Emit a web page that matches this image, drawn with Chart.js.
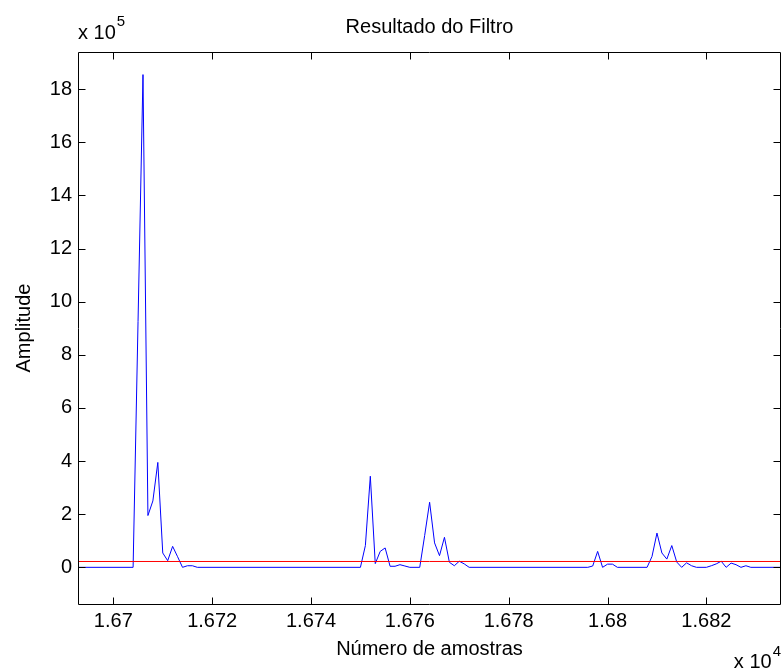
<!DOCTYPE html>
<html>
<head>
<meta charset="utf-8">
<title>Resultado do Filtro</title>
<script src="https://cdn.jsdelivr.net/npm/chart.js@4.4.1/dist/chart.umd.min.js"></script>
<style>
  html, body { margin: 0; padding: 0; background: #fff; }
</style>
</head>
<body>
<canvas id="myChart" width="782" height="671"></canvas>
<script>
// Sample numbers where the filter output changes slope (flat stretches are straight segments)
const samples = [
  16693, 16704, 16705, 16706, 16707, 16708, 16709, 16710, 16711, 16712, 16713, 16714, 16715, 16716, 16717,
  16750, 16751, 16752, 16753, 16754, 16755, 16756, 16757, 16758, 16759, 16760,
  16762, 16763, 16764, 16765, 16766, 16767, 16768, 16769, 16770, 16771, 16772,
  16796, 16797, 16798, 16799, 16800, 16801, 16802,
  16808, 16809, 16810, 16811, 16812, 16813, 16814, 16815, 16816, 16817, 16818,
  16820, 16821, 16822, 16823, 16824, 16825, 16826, 16827, 16828, 16829, 16835
];
const amplitudes = [
  0, 0, 925000, 1855000, 195000, 250000, 395000, 54000, 25000, 79000, 40000, 0, 6000, 6000, 0,
  0, 82000, 343000, 14000, 60000, 73000, 4000, 4000, 10000, 5000, 0,
  0, 120000, 245000, 92000, 44000, 113000, 19000, 6000, 23000, 13000, 0,
  0, 5000, 60000, 0, 12000, 12000, 0,
  0, 41000, 129000, 54000, 31000, 82000, 20000, 0, 17000, 6000, 0,
  0, 6000, 13000, 23000, 0, 16000, 10000, 0, 6000, 0, 0
];
const threshold = 22000;

// axes
const xMin = 16692.85;
const xMax = 16835.1;
const yMin = -138000;
const yMax = 1940000;
const xTickValues = [16700, 16720, 16740, 16760, 16780, 16800, 16820];
const xTickLabels = ["1.67", "1.672", "1.674", "1.676", "1.678", "1.68", "1.682"];
const yTickValues = [0, 200000, 400000, 600000, 800000, 1000000, 1200000, 1400000, 1600000, 1800000];
const yTickLabels = ["0", "2", "4", "6", "8", "10", "12", "14", "16", "18"];

const fontFamily = "'Liberation Sans', Arial, Helvetica, sans-serif";
const fontSize = 20;

let signalPoints = [];
for (let i = 0; i < samples.length; i++) {
  signalPoints.push({ x: samples[i], y: amplitudes[i] });
}
const thresholdPoints = [{ x: xMin, y: threshold }, { x: xMax, y: threshold }];

// box on all four sides, inward ticks, and the "x 10^n" multipliers
const matlabAxes = {
  id: "matlabAxes",
  afterDraw(chart) {
    const ctx = chart.ctx;
    const area = chart.chartArea;
    const xs = chart.scales.x;
    const ys = chart.scales.y;
    const tickLen = 7;
    const left = Math.round(area.left) + 0.5;
    const right = Math.round(area.right) - 0.5;
    const top = Math.round(area.top) + 0.5;
    const bottom = Math.round(area.bottom) + 0.5;

    ctx.save();
    ctx.strokeStyle = "#000";
    ctx.lineWidth = 1;
    ctx.beginPath();
    ctx.moveTo(left, top);
    ctx.lineTo(right, top);
    ctx.lineTo(right, bottom);
    ctx.moveTo(left, top);
    ctx.lineTo(left, bottom);
    ctx.lineTo(right, bottom);

    for (let i = 0; i < xTickValues.length; i++) {
      let px = Math.round(xs.getPixelForValue(xTickValues[i])) + 0.5;
      ctx.moveTo(px, bottom);
      ctx.lineTo(px, bottom - tickLen);
      ctx.moveTo(px, top);
      ctx.lineTo(px, top + tickLen);
    }
    for (let i = 0; i < yTickValues.length; i++) {
      let py = Math.round(ys.getPixelForValue(yTickValues[i])) + 0.5;
      ctx.moveTo(left, py);
      ctx.lineTo(left + tickLen, py);
      ctx.moveTo(right, py);
      ctx.lineTo(right - tickLen, py);
    }
    ctx.stroke();

    ctx.fillStyle = "#000";
    ctx.textBaseline = "alphabetic";
    ctx.textAlign = "left";
    // y multiplier, top left
    ctx.font = fontSize + "px " + fontFamily;
    ctx.fillText("x 10", 78, 39);
    let w = ctx.measureText("x 10").width;
    ctx.font = "15px " + fontFamily;
    ctx.fillText("5", 78 + w + 1, 26);
    // x multiplier, bottom right
    ctx.font = "15px " + fontFamily;
    let w4 = ctx.measureText("4").width;
    ctx.fillText("4", 781 - w4, 656);
    ctx.font = fontSize + "px " + fontFamily;
    ctx.textAlign = "right";
    ctx.fillText("x 10", 781 - w4 - 1, 668);
    ctx.restore();
  },
};

const ctx = document.getElementById("myChart");

new Chart(ctx, {
  type: "line",
  data: {
    datasets: [
      {
        label: "Threshold",
        data: thresholdPoints,
        borderColor: "#ff0000",
        borderWidth: 1,
        pointRadius: 0,
        order: 0,
      },
      {
        label: "Resultado",
        data: signalPoints,
        borderColor: "#0000ff",
        borderWidth: 1,
        pointRadius: 0,
        tension: 0,
        order: 1,
      },
    ],
  },
  options: {
    responsive: false,
    animation: false,
    devicePixelRatio: 1,
    layout: { padding: { left: 0, right: 1, top: 0, bottom: 0 } },
    plugins: {
      legend: { display: false },
      tooltip: { enabled: false },
      title: {
        display: true,
        text: "Resultado do Filtro",
        color: "#000",
        fullSize: false,
        font: { family: fontFamily, size: fontSize, weight: "normal" },
        padding: { top: 15, bottom: 13 },
      },
    },
    scales: {
      x: {
        type: "linear",
        min: xMin,
        max: xMax,
        grid: { display: false, drawTicks: false },
        border: { display: false },
        afterBuildTicks: (scale) => {
          scale.ticks = xTickValues.map((v) => ({ value: v }));
        },
        afterFit: (scale) => {
          scale.height = 67;
        },
        ticks: {
          color: "#000",
          padding: 5,
          maxRotation: 0,
          autoSkip: false,
          font: { family: fontFamily, size: fontSize },
          callback: (value) => xTickLabels[xTickValues.indexOf(value)],
        },
        title: {
          display: true,
          text: "Número de amostras",
          color: "#000",
          font: { family: fontFamily, size: fontSize },
          padding: { top: 0, bottom: 10 },
        },
      },
      y: {
        type: "linear",
        min: yMin,
        max: yMax,
        grid: { display: false, drawTicks: false },
        border: { display: false },
        afterBuildTicks: (scale) => {
          scale.ticks = yTickValues.map((v) => ({ value: v }));
        },
        afterFit: (scale) => {
          scale.width = 78;
        },
        ticks: {
          color: "#000",
          padding: 6,
          autoSkip: false,
          font: { family: fontFamily, size: fontSize },
          callback: (value) => yTickLabels[yTickValues.indexOf(value)],
        },
        title: {
          display: true,
          text: "Amplitude",
          color: "#000",
          font: { family: fontFamily, size: fontSize },
          padding: { top: 12, bottom: 0 },
        },
      },
    },
  },
  plugins: [matlabAxes],
});
</script>
</body>
</html>
